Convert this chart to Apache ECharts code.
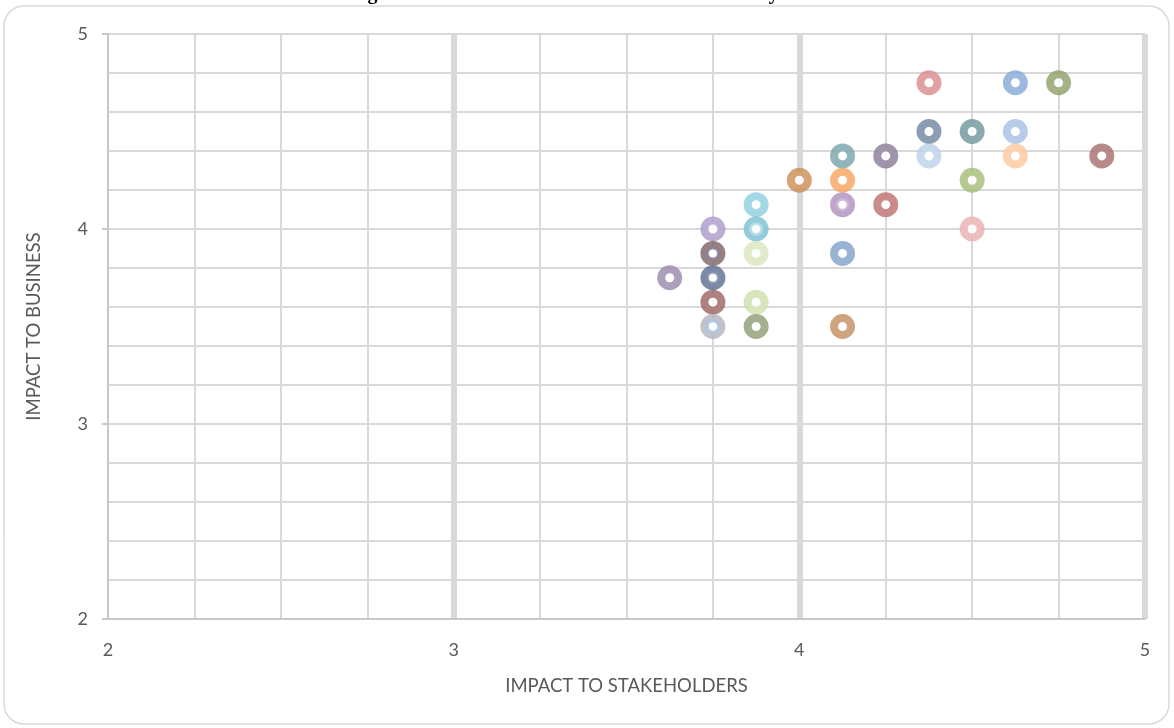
<!DOCTYPE html>
<html>
<head>
<meta charset="utf-8">
<title>Impact matrix</title>
<script src="https://cdn.jsdelivr.net/npm/echarts@6/dist/echarts.min.js"></script>
<style>
    html, body { margin: 0; padding: 0; background: #fff; }
    #main { width: 1174px; height: 728px; }
</style>
</head>
<body>
<div id="main"></div>
<script>
// impact scores, one entry per issue
var stakeholderScores = [4.375, 4.625, 4.75, 4.375, 4.5, 4.625, 4.125, 4.25, 4.375, 4.625,
    4.875, 4, 4.125, 4.5, 3.875, 4.125, 4.25, 3.75, 3.875, 4.5,
    3.75, 3.875, 4.125, 3.625, 3.75, 3.75, 3.875, 3.75, 3.875, 4.125];
var businessScores = [4.75, 4.75, 4.75, 4.5, 4.5, 4.5, 4.375, 4.375, 4.375, 4.375,
    4.375, 4.25, 4.25, 4.25, 4.125, 4.125, 4.125, 4, 4, 4,
    3.875, 3.875, 3.875, 3.75, 3.75, 3.625, 3.625, 3.5, 3.5, 3.5];

// issues that share a spot with another one (drawn on top)
var sharedStakeholder = [4.125, 3.875, 3.75, 3.75, 3.75];
var sharedBusiness = [4.125, 4, 3.875, 3.75, 3.5];

var xTicks = [2, 3, 4, 5];
var yTicks = [2, 3, 4, 5];

var palette = ['#da8a8c', '#84a7d6', '#8d9f66', '#6e84a0', '#6b969c', '#a6bee2', '#75a3aa', '#8a7b99', '#bcd0ea', '#fcc79d',
    '#a86a6b', '#cc8c52', '#f6a35e', '#a3bb76', '#8dcede', '#b08fbd', '#bd6f6d', '#ab98c8', '#7bbfd2', '#e9b0af',
    '#7a6262', '#d9e6bd', '#80a0c9', '#9a88ad', '#5b6d8f', '#9b6363', '#cfdfab', '#b1b3bd', '#8c9b72', '#c38c5e'];
var sharedPalette = ['#c8b3d6', '#b6dde8', '#8a7c9c', '#7d8eaa', '#a8c5e6'];

var myChart = echarts.init(document.getElementById('main'));

var points = [];
stakeholderScores.forEach(function(x, i) {
    points.push({
        value: [x, businessScores[i]],
        itemStyle: { borderColor: palette[i] }
    });
});
var sharedPoints = [];
sharedStakeholder.forEach(function(x, i) {
    sharedPoints.push({
        value: [x, sharedBusiness[i]],
        itemStyle: { borderColor: sharedPalette[i] }
    });
});

var textColor = '#595959';
var font = 'Lato';

var option = {
    animation: false,
    title: {
        text: 'Chart 3: Ratings of the Material Issues as Scored in the Survey Results',
        left: 237,
        top: -21,
        textStyle: { fontFamily: 'Liberation Serif', fontWeight: 'bold', fontSize: 20, color: '#000' }
    },
    graphic: [{
        type: 'rect',
        shape: { x: 4, y: 6, width: 1165, height: 718, r: 20 },
        style: { fill: 'none', stroke: '#d9d9d9', lineWidth: 1.5 },
        z: -1
    }],
    grid: { left: 108, right: 29, top: 34, bottom: 109 },
    xAxis: {
        type: 'value',
        min: xTicks[0],
        max: xTicks[xTicks.length - 1],
        interval: 1,
        name: 'IMPACT TO STAKEHOLDERS',
        nameLocation: 'middle',
        nameGap: 58,
        nameTextStyle: { fontFamily: font, fontSize: 18.5, color: textColor },
        axisLine: { show: true, lineStyle: { color: '#c8c8c8', width: 2 } },
        axisTick: { show: false },
        axisLabel: { fontFamily: font, fontSize: 18, color: textColor, margin: 22 },
        splitLine: { show: true, showMinLine: false, lineStyle: { color: '#d9d9d9', width: 6 } },
        minorTick: { show: false, splitNumber: 4 },
        minorSplitLine: { show: true, lineStyle: { color: '#d9d9d9', width: 2 } }
    },
    yAxis: {
        type: 'value',
        min: yTicks[0],
        max: yTicks[yTicks.length - 1],
        interval: 1,
        name: 'IMPACT TO BUSINESS',
        nameLocation: 'middle',
        nameGap: 64,
        nameTextStyle: { fontFamily: font, fontSize: 18.5, color: textColor },
        axisLine: { show: true, lineStyle: { color: '#c8c8c8', width: 2 } },
        axisTick: { show: true, length: 6, lineStyle: { color: '#c8c8c8', width: 2 } },
        axisLabel: { fontFamily: font, fontSize: 18, color: textColor, margin: 20 },
        splitLine: { show: true, lineStyle: { color: '#d9d9d9', width: 2 } },
        minorTick: { show: false, splitNumber: 5 },
        minorSplitLine: { show: true, lineStyle: { color: '#d9d9d9', width: 2 } }
    },
    series: [{
        name: 'issues',
        type: 'scatter',
        symbol: 'circle',
        symbolSize: 17,
        itemStyle: { color: '#fff', borderWidth: 8 },
        data: points,
        z: 3
    }, {
        name: 'shared',
        type: 'scatter',
        symbol: 'circle',
        symbolSize: 11,
        itemStyle: { color: '#fff', borderWidth: 3 },
        data: sharedPoints,
        z: 4
    }]
};

myChart.setOption(option);
</script>
</body>
</html>
